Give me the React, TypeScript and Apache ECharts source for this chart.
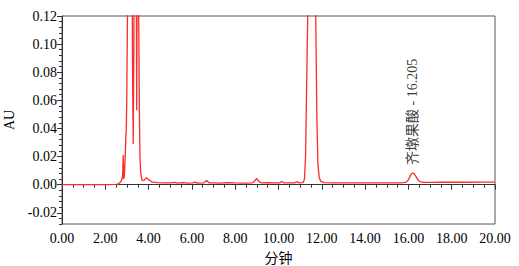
import React, { useEffect, useRef } from "react";
import * as echarts from "echarts";

// Retention time (min) and absorbance (AU)
const times = [
  0.0, 1.0, 2.0, 2.5, 2.6, 2.68, 2.75, 2.8, 2.83, 2.85, 2.88, 2.92, 2.95, 2.97, 2.99,
  3.03, 3.08, 3.2, 3.26, 3.29, 3.32, 3.36, 3.42, 3.45, 3.48, 3.53, 3.57, 3.6, 3.64,
  3.7, 3.8, 3.9, 4.0, 4.15, 4.4, 4.7, 5.0, 5.2, 5.35, 5.6, 5.8, 6.05, 6.14, 6.25,
  6.55, 6.68, 6.8, 7.0, 7.3, 7.6, 8.0, 8.4, 8.8, 8.92, 8.99, 9.08, 9.2, 9.5, 9.8,
  10.05, 10.15, 10.25, 10.5, 10.75, 10.84, 10.95, 11.1, 11.15, 11.2, 11.25, 11.3,
  11.35, 11.4, 11.53, 11.66, 11.72, 11.77, 11.82, 11.88, 11.95, 12.1, 12.5, 13.0,
  14.0, 15.0, 15.6, 15.8, 15.9, 15.98, 16.06, 16.14, 16.21, 16.28, 16.36, 16.45,
  16.55, 16.7, 17.0, 17.5, 18.5, 19.5, 20.0,
];
const absorbance = [
  0.0, 0.0, 0.0, 0.0002, 0.0006, 0.0015, 0.003, 0.006, 0.021, 0.004, 0.006, 0.02,
  0.034, 0.04, 0.06, 0.13, 0.3, 0.3, 0.08, 0.029, 0.1, 0.3, 0.2, 0.053, 0.2, 0.15,
  0.06, 0.02, 0.008, 0.003, 0.0032, 0.005, 0.0035, 0.002, 0.0015, 0.0013, 0.0012,
  0.0016, 0.0011, 0.0014, 0.0011, 0.0012, 0.0018, 0.0011, 0.0012, 0.003, 0.0012,
  0.0013, 0.0011, 0.0014, 0.0012, 0.0011, 0.0013, 0.003, 0.0045, 0.0025, 0.0012,
  0.0014, 0.0012, 0.0013, 0.0022, 0.0013, 0.0012, 0.0013, 0.0021, 0.0013, 0.0014,
  0.0018, 0.004, 0.02, 0.07, 0.12, 0.25, 0.5, 0.25, 0.12, 0.05, 0.015, 0.005,
  0.0025, 0.0014, 0.0012, 0.0012, 0.0012, 0.0013, 0.0013, 0.0014, 0.0018, 0.003,
  0.0055, 0.0078, 0.0083, 0.0075, 0.0055, 0.0032, 0.002, 0.0016, 0.0016, 0.0017,
  0.0017, 0.0018, 0.0018,
];

// Peak annotation
const peakTimes = [16.205];
const peakHeights = [0.0083];
const peakLabels = ["齐墩果酸 - 16.205"];

// Axis ticks
const yMajorTicks = [-0.02, 0.0, 0.02, 0.04, 0.06, 0.08, 0.1, 0.12];
const yMin = -0.028;
const yMax = 0.12;
const xMin = 0;
const xMax = 20;
const xInterval = 2;

const FONT = "Liberation Serif";
const CJK_FONT = "Noto Sans CJK SC";

export default function App() {
  const ref = useRef<HTMLDivElement>(null);
  useEffect(() => {
    if (!ref.current) return;
    const chart = echarts.init(ref.current, undefined, { renderer: "svg" });
    const lineData = times.map((t, i) => [t, absorbance[i]]);
    const peakData = peakTimes.map((t, i) => ({
      value: [t, peakHeights[i]],
      label: { formatter: peakLabels[i] },
    }));
    chart.setOption({
      animation: false,
      grid: {
        left: 62,
        right: 24,
        top: 16,
        bottom: 42,
        containLabel: false,
        outerBoundsMode: "none",
        show: true,
        borderColor: "#555",
        borderWidth: 1,
        backgroundColor: "transparent",
      },
      xAxis: {
        type: "value",
        min: xMin,
        max: xMax,
        interval: xInterval,
        name: "分钟",
        nameLocation: "middle",
        nameGap: 22,
        nameTextStyle: { fontFamily: CJK_FONT, fontSize: 14, color: "#000" },
        axisLine: { lineStyle: { color: "#333", width: 1 } },
        axisTick: { show: true, length: 5, lineStyle: { color: "#333" } },
        minorTick: { show: true, splitNumber: 4, length: 3, lineStyle: { color: "#333" } },
        axisLabel: {
          formatter: (v: number) => v.toFixed(2),
          fontFamily: FONT,
          fontSize: 14,
          color: "#000",
          margin: 7,
          hideOverlap: false,
        },
        splitLine: { show: false },
      },
      yAxis: [
        {
          type: "value",
          min: yMin,
          max: yMax,
          name: "AU",
          nameLocation: "middle",
          nameGap: 44,
          nameRotate: 90,
          nameTextStyle: { fontFamily: FONT, fontSize: 14, color: "#000" },
          axisLine: { show: true, lineStyle: { color: "#333", width: 1 } },
          axisTick: { show: true, length: 5, customValues: yMajorTicks, lineStyle: { color: "#333" } },
          axisLabel: {
            customValues: yMajorTicks,
            formatter: (v: number) => v.toFixed(2),
            fontFamily: FONT,
            fontSize: 14,
            color: "#000",
            margin: 5,
          },
          splitLine: { show: false },
        },
        {
          type: "value",
          min: yMin,
          max: yMax,
          interval: 0.004,
          position: "left",
          axisLine: { show: false },
          axisTick: { show: true, length: 3, lineStyle: { color: "#333" } },
          axisLabel: { show: false },
          splitLine: { show: false },
        },
      ],
      series: [
        {
          type: "line",
          data: lineData,
          showSymbol: false,
          symbol: "none",
          clip: true,
          lineStyle: { color: "#ff2a2a", width: 1.3 },
        },
        {
          type: "scatter",
          data: peakData,
          symbolSize: 0,
          silent: true,
          label: {
            show: true,
            position: "top",
            distance: 8,
            rotate: 90,
            align: "left",
            verticalAlign: "middle",
            fontFamily: FONT + ", " + CJK_FONT,
            fontSize: 14,
            color: "#000",
          },
        },
      ],
    });
    return () => chart.dispose();
  }, []);
  return <div ref={ref} style={{ width: 519, height: 266, position: "absolute", left: 0, top: 0 }} />;
}
